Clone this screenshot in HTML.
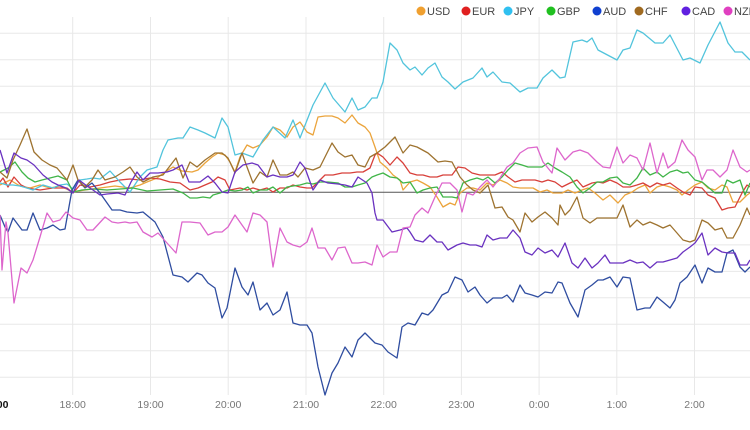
<!DOCTYPE html>
<html><head><meta charset="utf-8"><style>
html,body{margin:0;padding:0;background:#fff;}
svg{display:block;}
text{font-family:"Liberation Sans",Arial,sans-serif;}
</style></head><body>
<svg width="750" height="430" viewBox="0 0 750 430" xmlns="http://www.w3.org/2000/svg">
<rect width="750" height="430" fill="#fff"/>
<g stroke="#e8e8e8" stroke-width="1">
<line x1="0" y1="33.3" x2="750" y2="33.3"/>
<line x1="0" y1="59.8" x2="750" y2="59.8"/>
<line x1="0" y1="86.2" x2="750" y2="86.2"/>
<line x1="0" y1="112.7" x2="750" y2="112.7"/>
<line x1="0" y1="139.1" x2="750" y2="139.1"/>
<line x1="0" y1="165.6" x2="750" y2="165.6"/>
<line x1="0" y1="218.5" x2="750" y2="218.5"/>
<line x1="0" y1="244.9" x2="750" y2="244.9"/>
<line x1="0" y1="271.4" x2="750" y2="271.4"/>
<line x1="0" y1="297.8" x2="750" y2="297.8"/>
<line x1="0" y1="324.3" x2="750" y2="324.3"/>
<line x1="0" y1="350.7" x2="750" y2="350.7"/>
<line x1="0" y1="377.2" x2="750" y2="377.2"/>
<line x1="72.7" y1="17" x2="72.7" y2="395"/>
<line x1="150.5" y1="17" x2="150.5" y2="395"/>
<line x1="228.2" y1="17" x2="228.2" y2="395"/>
<line x1="306" y1="17" x2="306" y2="395"/>
<line x1="383.7" y1="17" x2="383.7" y2="395"/>
<line x1="461.4" y1="17" x2="461.4" y2="395"/>
<line x1="539.1" y1="17" x2="539.1" y2="395"/>
<line x1="616.8" y1="17" x2="616.8" y2="395"/>
<line x1="694.5" y1="17" x2="694.5" y2="395"/>
</g>
<line x1="0" y1="192.3" x2="750" y2="192.3" stroke="#555" stroke-width="1"/>

<g fill="none" stroke-width="1.3" stroke-linejoin="round">
<polyline stroke="#eba43c" points="0,185 10,180 20,186 30,188 40,185 50,188 60,186 73,192 85,190 100,188 115,186 130,188 140,185 147,182 157,178 165,172 173,167 182,171 192,172 198,170 205,163 212,157 218,153 225,155 230,162 235,172 240,157 247,145 253,148 260,145 267,137 273,127 280,130 287,137 293,127 300,122 307,132 313,135 318,117 325,116 332,116 338,118 345,123 352,115 358,123 365,127 370,133 375,147 380,162 387,168 393,175 400,180 403,190 410,182 417,180 423,183 430,187 437,197 443,207 450,203 455,205 460,193 467,188 473,188 480,190 487,183 493,185 500,180 507,183 513,187 520,188 527,188 533,188 540,192 547,190 553,193 562,193 568,190 575,193 582,190 588,188 595,193 603,200 610,195 618,203 625,195 632,192 638,188 645,185 650,193 657,187 663,185 670,187 677,190 682,195 688,190 695,185 702,182 708,188 715,190 722,185 727,187 733,202 740,202 747,195 750,193"/>
<polyline stroke="#d8403a" points="0,182 3,178 8,187 14,177 21,185 27,188 40,190 53,188 67,188 73,193 80,185 90,187 100,185 110,182 120,180 130,179 140,180 150,178 160,179 170,182 180,183 190,190 198,188 205,185 212,182 218,177 225,180 230,190 240,188 247,190 253,188 260,190 267,188 273,192 280,188 287,188 293,185 300,187 307,188 312,188 318,182 325,175 333,175 342,173 350,173 357,172 363,172 370,168 375,155 377,153 383,157 390,165 397,157 403,163 410,173 417,175 423,175 430,177 437,177 443,175 452,175 458,167 465,168 472,173 480,175 488,175 495,175 502,172 508,177 515,182 522,180 528,180 535,180 542,182 548,180 555,182 562,187 570,183 577,180 583,187 592,183 598,182 603,183 610,180 617,183 623,187 630,187 637,185 643,183 650,187 657,183 663,185 670,183 677,188 683,192 690,195 695,187 702,188 708,195 715,198 722,210 728,208 735,207 742,193 747,185 750,187"/>
<polyline stroke="#52c4dc" points="0,183 7,185 13,185 20,186 27,188 33,190 43,185 53,188 60,185 67,184 73,189 80,180 87,179 93,178 100,179 110,171 120,182 130,192 140,177 147,170 157,167 163,150 168,140 178,138 183,138 190,127 198,130 205,133 215,138 222,118 228,127 235,155 242,153 253,157 263,140 273,127 285,138 293,120 300,138 313,105 325,83 333,98 345,112 352,98 358,110 365,107 372,98 377,98 383,82 390,43 397,50 403,63 410,70 415,67 422,75 428,68 435,63 442,77 448,82 455,89 463,82 473,78 482,68 487,77 493,72 502,82 510,83 520,92 528,88 537,88 543,78 552,70 560,78 565,77 573,42 582,40 587,42 592,38 598,50 617,60 623,50 630,48 637,30 643,33 655,43 663,43 670,35 683,60 690,58 700,63 708,45 720,22 728,43 735,52 742,52 750,60"/>
<polyline stroke="#40b548" points="0,172 8,168 15,162 22,172 28,178 35,182 42,180 50,178 58,176 67,180 73,192 82,190 93,189 107,190 120,189 133,188 147,191 160,190 173,189 183,193 190,198 197,198 203,197 210,198 213,195 220,193 228,190 235,191 242,190 248,187 253,193 260,190 267,190 273,187 280,193 287,187 293,186 300,185 307,183 313,184 320,182 328,182 338,183 345,187 352,187 358,185 365,183 372,177 377,175 383,173 390,177 397,178 403,183 410,182 417,193 423,190 430,188 437,187 443,197 452,197 457,198 463,183 470,180 477,178 483,180 488,177 495,183 502,177 508,170 515,163 522,165 528,167 535,167 542,167 548,163 555,168 562,172 570,177 577,187 583,193 590,188 597,182 603,182 610,178 617,177 623,183 630,185 637,178 643,168 650,175 657,172 663,177 670,172 677,170 683,173 688,172 695,180 702,182 708,187 715,193 722,193 727,180 733,183 740,180 745,195 750,183"/>
<polyline stroke="#2f4da0" points="0,215 5,227 8,232 13,218 22,230 27,230 33,213 40,230 47,228 53,225 60,230 65,229 72,190 78,180 85,188 92,183 100,193 112,210 120,210 127,212 137,213 143,212 155,222 163,237 173,275 182,277 188,282 197,273 202,275 208,283 215,288 222,318 227,308 235,268 242,287 248,295 253,282 260,310 267,303 273,315 280,310 287,292 293,323 300,325 307,325 312,333 318,367 325,395 332,373 338,363 345,347 352,357 358,340 365,333 370,338 375,343 382,345 388,352 397,358 402,327 408,323 415,325 422,313 428,315 433,310 442,295 448,292 455,277 462,280 468,292 475,287 480,295 487,303 493,298 502,298 507,295 513,302 520,285 525,293 532,295 538,297 545,292 552,293 558,282 562,283 570,303 578,317 585,290 592,285 598,280 603,280 610,277 617,287 623,277 630,278 637,310 645,308 650,308 657,297 663,302 670,308 675,300 680,283 687,277 695,265 702,283 708,268 715,272 722,272 727,253 733,250 740,267 745,272 750,267"/>
<polyline stroke="#9e7330" points="0,172 7,178 13,160 20,145 27,129 34,152 42,160 50,165 57,168 67,180 73,165 78,180 85,187 92,180 98,170 105,180 115,177 123,172 130,167 137,177 143,182 153,177 163,175 176,158 183,178 190,162 197,167 205,160 215,153 222,153 228,158 235,173 242,153 247,167 253,183 260,172 267,177 273,160 280,175 287,175 293,172 298,177 305,168 313,170 320,167 332,143 338,152 345,157 352,155 358,165 365,167 370,157 377,153 385,147 395,137 403,153 410,145 417,147 428,153 438,162 445,161 452,162 460,177 467,185 473,190 480,193 488,185 495,208 502,207 508,217 513,220 520,232 525,213 532,222 538,217 545,212 552,218 558,225 560,205 565,215 570,210 577,197 583,218 590,223 597,218 603,218 617,218 623,205 630,227 637,220 643,225 650,222 657,225 663,228 670,225 677,233 683,240 690,242 695,240 702,220 708,223 715,230 722,228 727,238 733,238 740,225 747,208 750,215"/>
<polyline stroke="#6a32c0" points="0,150 7,173 14,153 21,158 27,160 34,165 43,175 52,182 58,185 66,188 73,193 79,180 87,186 93,190 100,195 107,194 118,193 125,195 131,182 137,172 143,180 150,173 158,173 167,172 173,170 182,165 189,182 200,182 208,176 215,183 222,192 228,193 235,172 243,165 252,163 258,165 267,177 273,175 280,177 287,177 293,175 300,162 305,168 313,190 320,180 328,183 338,184 345,185 352,187 358,177 367,183 372,193 375,213 377,220 383,220 392,232 400,230 407,228 410,232 415,240 423,242 430,235 437,242 442,242 448,250 457,245 463,243 470,245 476,245 482,247 487,235 493,240 500,238 507,238 513,230 520,238 525,252 532,255 538,248 545,253 552,250 558,257 565,243 572,263 578,268 585,258 592,268 598,263 605,255 610,263 617,263 623,263 630,260 637,263 643,262 650,268 657,262 663,262 670,260 677,258 683,252 690,247 695,243 702,233 708,255 715,248 722,252 728,253 735,253 740,265 747,265 750,260"/>
<polyline stroke="#dd66cc" points="0,215 2,270 6,222 8,233 14,303 21,268 27,273 33,260 40,237 47,213 53,222 60,220 66,212 73,218 80,220 87,230 93,230 105,217 112,222 118,223 125,222 130,223 137,222 143,232 152,237 158,233 167,243 176,253 182,222 190,222 200,223 208,235 215,232 222,232 228,227 235,215 242,225 247,232 253,213 260,215 267,222 273,267 280,228 287,242 293,245 300,247 307,242 312,228 318,248 325,248 332,260 338,248 345,247 352,263 358,263 365,262 372,265 377,245 383,257 390,252 397,252 403,228 410,227 415,215 422,208 428,213 435,197 442,183 450,183 457,190 462,212 467,193 473,195 480,187 487,180 493,187 500,178 507,167 513,163 520,153 528,148 537,147 543,162 552,173 557,148 565,160 573,152 580,150 588,153 597,162 603,167 610,168 617,147 623,163 630,155 637,158 643,170 650,143 657,173 663,153 668,168 675,162 682,140 688,150 695,157 702,180 707,170 713,170 720,177 727,170 733,150 740,167 747,172 750,170"/>
</g>

<g font-size="10.5" fill="#777" text-anchor="middle">
<text x="-5" y="408" fill="#111" font-weight="bold">17:00</text>
<text x="72.7" y="408">18:00</text>
<text x="150.5" y="408">19:00</text>
<text x="228.2" y="408">20:00</text>
<text x="306" y="408">21:00</text>
<text x="383.7" y="408">22:00</text>
<text x="461.4" y="408">23:00</text>
<text x="539.1" y="408">0:00</text>
<text x="616.8" y="408">1:00</text>
<text x="694.5" y="408">2:00</text>
</g>

<g font-size="11" fill="#444">
<circle cx="421" cy="11" r="4.5" fill="#f0a030"/><text x="427" y="15">USD</text>
<circle cx="466" cy="11" r="4.5" fill="#e02020"/><text x="472" y="15">EUR</text>
<circle cx="508" cy="11" r="4.5" fill="#30c0f0"/><text x="514" y="15">JPY</text>
<circle cx="551" cy="11" r="4.5" fill="#20c020"/><text x="557" y="15">GBP</text>
<circle cx="597" cy="11" r="4.5" fill="#1040d0"/><text x="603" y="15">AUD</text>
<circle cx="639" cy="11" r="4.5" fill="#a06a20"/><text x="645" y="15">CHF</text>
<circle cx="686" cy="11" r="4.5" fill="#6020e0"/><text x="692" y="15">CAD</text>
<circle cx="728" cy="11" r="4.5" fill="#e040c0"/><text x="734" y="15">NZD</text>
</g>
</svg>
</body></html>
